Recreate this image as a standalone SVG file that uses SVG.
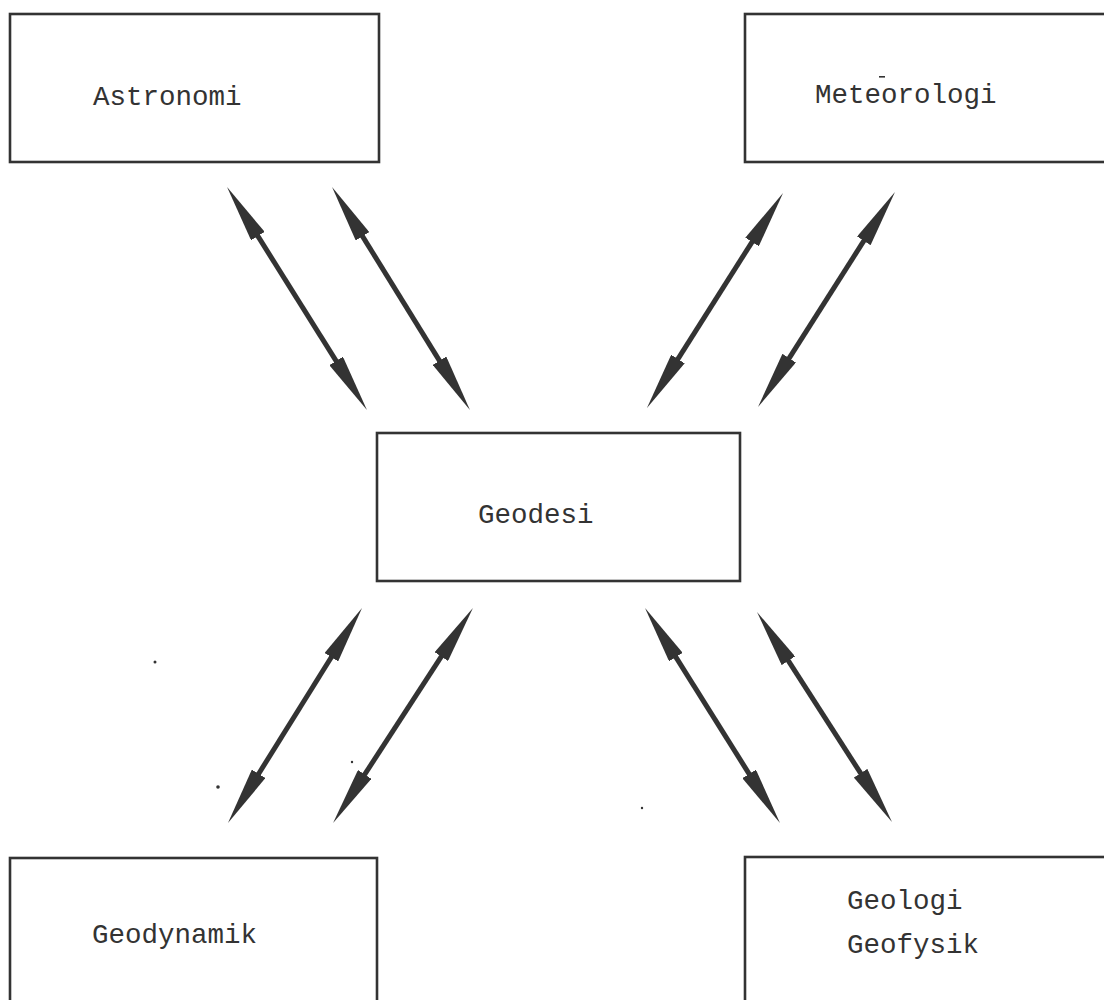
<svg xmlns="http://www.w3.org/2000/svg" width="1104" height="1000" viewBox="0 0 1104 1000">
<style>
.box{fill:none;stroke:#333;stroke-width:2.6}
.lbl{font-family:"Liberation Mono","Courier New",monospace;font-size:27.5px;fill:#333}
.arr{stroke:#333;stroke-width:5;fill:none;marker-start:url(#head);marker-end:url(#head)}
.dot{fill:#333}
</style>
<defs>
<marker id="head" markerUnits="userSpaceOnUse" viewBox="0 0 58 16" markerWidth="58" markerHeight="16" refX="2" refY="8" orient="auto-start-reverse">
<path d="M0,0 L58,8 L0,16 Z" fill="#333"/>
</marker>
</defs>
<rect width="1104" height="1000" fill="#fff"/>
<g id="astronomi">
<rect class="box" x="10" y="14" width="369" height="148"/>
<text class="lbl" x="93" y="105">Astronomi</text>
</g>
<g id="meteorologi">
<rect class="box" x="745" y="14" width="380" height="148"/>
<text class="lbl" x="815" y="103">Meteorologi</text>
</g>
<g id="geodesi">
<rect class="box" x="377" y="433" width="363" height="148"/>
<text class="lbl" x="478" y="523">Geodesi</text>
</g>
<g id="geodynamik">
<rect class="box" x="10" y="858" width="367" height="160"/>
<text class="lbl" x="92" y="943">Geodynamik</text>
</g>
<g id="geologi-geofysik">
<rect class="box" x="745" y="857" width="380" height="160"/>
<text class="lbl" x="847" y="909">Geologi</text>
<text class="lbl" x="847" y="953">Geofysik</text>
</g>
<g id="connectors">
<line class="arr" x1="256.8" y1="234.4" x2="337.2" y2="362.6"/>
<line class="arr" x1="361.5" y1="234.6" x2="440.5" y2="362.4"/>
<line class="arr" x1="753.1" y1="240.3" x2="676.9" y2="360.7"/>
<line class="arr" x1="864.9" y1="239.2" x2="788.1" y2="359.8"/>
<line class="arr" x1="332.4" y1="655.5" x2="257.6" y2="775.5"/>
<line class="arr" x1="442.4" y1="654.9" x2="363.6" y2="776.1"/>
<line class="arr" x1="674.8" y1="655.4" x2="750.2" y2="775.6"/>
<line class="arr" x1="787.3" y1="659.1" x2="861.7" y2="774.9"/>
</g>
<g id="specks">
<circle class="dot" cx="155" cy="662" r="1.5"/>
<circle class="dot" cx="218" cy="787" r="1.8"/>
<circle class="dot" cx="352" cy="762" r="1.2"/>
<circle class="dot" cx="642" cy="808" r="1.2"/>
<rect class="dot" x="879" y="76" width="6" height="1.6"/>
</g>
</svg>
